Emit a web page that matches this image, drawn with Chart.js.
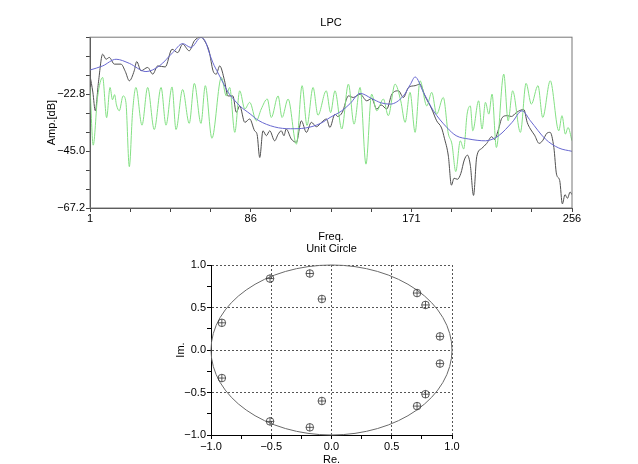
<!DOCTYPE html>
<html>
<head>
<meta charset="utf-8">
<title>LPC</title>
<script src="https://cdn.jsdelivr.net/npm/chart.js@4.4.1/dist/chart.umd.min.js"></script>
<style>
  html, body { margin: 0; padding: 0; background: #fff; overflow: hidden; }
  #lpcChart { position: absolute; left: 0; top: 0; }
  #circleChart { position: absolute; left: 0; top: 240px; }
</style>
</head>
<body>
<canvas id="lpcChart" width="638" height="245"></canvas>
<canvas id="circleChart" width="638" height="234"></canvas>
<script>
// Spectrum (gray): frequency bin / amplitude in dB
const specBins = [
  1, 2.5, 3.8, 5.5, 7.7, 9.5, 11.2, 13.9, 17.4, 19.7,
  21.8, 24.4, 25.7, 28, 31.5, 34.2, 36.8, 40.8, 44.4, 47.4,
  50, 53.5, 56.2, 59.7, 62, 64, 66.1, 67.8, 69.6, 72.2,
  73.9, 76.6, 78.4, 80.2, 82.9, 85.5, 88.1, 89.4, 90.8, 92.5,
  94.3, 96.1, 98.7, 100.5, 102.2, 103.6, 104.8, 107.5, 110.2, 112.8,
  115.5, 118.1, 120.8, 123.5, 126.1, 127.9, 130.6, 132, 134.5, 137.7,
  140.3, 143.9, 147.4, 150, 152.7, 155, 158, 160.7, 164.2, 166.8,
  169.5, 173, 175.6, 178.2, 181.8, 184.4, 187, 188.5, 190.6, 192.2,
  193.6, 195.4, 197.2, 199, 200.7, 202.2, 203.9, 205.6, 208.2, 210.9,
  213.5, 215, 217, 219, 221.6, 224, 226.5, 229, 230.5, 232.3,
  234, 236.2, 238.6, 240.4, 242.8, 244.4, 246.4, 247.8, 249.5, 250.9,
  252.3, 253.6, 255, 256
];
const specDb = [
  -15.5, -22, -29.3, -18, -7.2, -9.2, -8.5, -11.1, -11.1, -14,
  -17.6, -13.7, -10.1, -13.7, -12.4, -15, -11.8, -12.2, -5.3, -6.6,
  -3.3, -5.9, -2.0, -0.5, -2.5, -6, -13.7, -15, -11.8, -17.6,
  -23.5, -23.5, -29.9, -27.4, -33.8, -32.5, -37.1, -38.5, -47.5, -37.1,
  -39, -37.1, -41, -38.5, -37.1, -39, -36.4, -40.3, -41.6, -33.2,
  -37.7, -33.8, -35.5, -33.8, -32.5, -35.8, -30.6, -31.5, -29.9, -23.5,
  -24.1, -22.8, -25.4, -24.5, -28.6, -27, -28.6, -22.8, -21.5, -24.1,
  -20.2, -19.5, -18.9, -23.5, -28.6, -33.2, -36, -40, -47, -58.3,
  -55.6, -56, -53.7, -48.5, -46.6, -50.5, -62.3, -47.2, -44, -42,
  -39.4, -40.5, -36.8, -32, -31.2, -31.5, -30, -29, -28.8, -33.8,
  -36.4, -38.8, -42, -41, -38, -37.7, -43.6, -54, -56.5, -65.6,
  -62, -63.4, -61, -62
];

// LPC envelope (blue)
const envBins = [
  1, 7.7, 14.8, 21.8, 30.6, 37.7, 44.8, 50, 54.4, 59.7,
  62, 64, 66, 68.7, 71.5, 74, 77, 80.4, 85.7, 90,
  98.7, 107, 115, 123, 128, 134.2, 138.6, 143.9, 150, 155,
  159.8, 166.8, 170.5, 173, 177.4, 182.7, 189.8, 194.7, 201.4, 210.2,
  217.2, 224.3, 229.6, 234, 241.9, 249, 256
];
const envDb = [
  -13.4, -11.8, -9.2, -10.8, -14, -11.8, -6.6, -3.1, -4.6, -0.7,
  -2.2, -6.5, -10.5, -14.5, -18.5, -22, -24.8, -27.5, -30.5, -33,
  -35.6, -36.3, -36, -34.2, -31.9, -29.3, -26.5, -22.5, -24.5, -26.2,
  -26.7, -23.5, -19, -16.1, -22.1, -29.3, -35.8, -39, -40.3, -41,
  -39, -33.8, -29.3, -33.2, -40.3, -43.8, -45.1
];

// Residual spectrum (green)
const resBins = [
  1, 2.7, 5, 7.7, 9.8, 11.6, 12.9, 14, 15, 16.5,
  18.5, 20, 21.8, 23.5, 25.3, 28.5, 31.5, 35, 38.6, 41.2,
  44.4, 46.5, 50, 53.5, 56.2, 59.7, 62, 65.5, 70.5, 73.1,
  74.9, 77.6, 80.2, 82.9, 85.5, 89, 91.6, 94.8, 96.9, 100.5,
  102.6, 105.8, 110.2, 113.2, 115.8, 119, 121.6, 126, 128.3, 130.6,
  134.2, 137.7, 140.7, 143.9, 147, 150, 152.7, 156.2, 158.8, 162.4,
  165.4, 167.7, 170.3, 173, 175.6, 179.2, 181.8, 184.4, 187.9, 190.5,
  192.5, 194.5, 196.9, 198.7, 200.5, 202.2, 203.5, 206.6, 208.4, 210.2,
  212, 213.7, 216, 219.9, 222.2, 224.6, 228.7, 231.7, 234.5, 238,
  240.5, 244.5, 249, 250.7, 252.5, 253.9, 256
];
const resDb = [
  -20, -42.7, -24, -16.3, -32, -20.2, -25, -23, -27, -29.3,
  -23.5, -26, -51.1, -30, -20.2, -34.9, -20.2, -36.6, -20.2, -34.9,
  -20, -36.6, -21, -34.2, -18.6, -34.2, -19.5, -40, -16.3, -23.5,
  -20.2, -37.7, -21.5, -28.6, -26, -33.2, -28.6, -24.7, -31.9, -23.5,
  -31.9, -24.7, -42.3, -19.5, -35, -20.2, -31, -21.5, -30, -21.5,
  -36.4, -18.9, -34.5, -20.2, -50.1, -22.8, -29.3, -24.7, -31.2, -18.9,
  -25.4, -33.8, -22.1, -37.7, -17.6, -27.4, -22.1, -30.6, -24.1, -38,
  -42.3, -53, -41, -44.2, -30.6, -27.4, -37.1, -25.4, -36.4, -26,
  -30.6, -22.8, -43.6, -15, -33.2, -21.5, -37.7, -18.6, -26.7, -19.5,
  -31.9, -17.6, -37.1, -31.2, -38.4, -35.8, -41
];

// Roots on the z-plane
const rootRe = [-0.51, -0.18, -0.08, 0.71, 0.78, 0.90, 0.90, 0.78, 0.71, -0.08, -0.18, -0.51, -0.91, -0.91];
const rootIm = [0.84, 0.90, 0.60, 0.67, 0.53, 0.16, -0.16, -0.52, -0.66, -0.60, -0.91, -0.84, -0.33, 0.32];

// Axis settings
const freqMin = 1, freqMax = 256, freqStep = 21.25;
const dbMin = -67.2, dbMax = -0.6, dbStep = 7.4;

Chart.defaults.font.family = '"Liberation Sans", Arial, sans-serif';
Chart.defaults.font.size = 11;
Chart.defaults.color = '#000';

const toPoints = (xs, ys) => xs.map((x, i) => ({ x, y: ys[i] }));
const fmt = v => (v < 0 ? '\u2212' : '') + Math.abs(v).toFixed(1);
const isHalf = v => Math.abs(v * 2 - Math.round(v * 2)) < 1e-6;

// box around the spectrum plot
const frame = {
  id: 'frame',
  afterDatasetsDraw(chart) {
    const { ctx, chartArea: a } = chart;
    ctx.save();
    ctx.strokeStyle = '#777';
    ctx.lineWidth = 1;
    ctx.strokeRect(a.left, a.top, a.right - a.left, a.bottom - a.top);
    ctx.restore();
  }
};

// unit circle, drawn through the chart's scales
const unitCircle = {
  id: 'unitCircle',
  beforeDatasetsDraw(chart) {
    const { ctx, scales: { x, y } } = chart;
    const cx = x.getPixelForValue(0);
    const cy = y.getPixelForValue(0);
    ctx.save();
    ctx.strokeStyle = '#6a6a6a';
    ctx.lineWidth = 1;
    ctx.beginPath();
    ctx.ellipse(cx, cy, x.getPixelForValue(1) - cx, cy - y.getPixelForValue(1), 0, 0, Math.PI * 2);
    ctx.stroke();
    ctx.restore();
  }
};

new Chart(document.getElementById('lpcChart'), {
  type: 'line',
  data: {
    datasets: [
      { label: 'LPC envelope', data: toPoints(envBins, envDb), borderColor: '#6868d0' },
      { label: 'Residual', data: toPoints(resBins, resDb), borderColor: '#84e084' },
      { label: 'Spectrum', data: toPoints(specBins, specDb), borderColor: '#505050' }
    ]
  },
  options: {
    responsive: false,
    animation: false,
    elements: {
      point: { radius: 0 },
      line: { borderWidth: 1, cubicInterpolationMode: 'monotone' }
    },
    layout: { padding: { right: 66 } },
    plugins: {
      legend: { display: false },
      tooltip: { enabled: false },
      title: {
        display: true, text: 'LPC', fullSize: false, color: '#000',
        font: { size: 11, weight: 'normal' }, padding: { top: 16, bottom: 8 }
      }
    },
    scales: {
      x: {
        type: 'linear', min: freqMin, max: freqMax,
        ticks: {
          stepSize: freqStep, autoSkip: false, maxRotation: 0, padding: 0,
          callback: (v, i) => (i % 4 === 0 ? String(Math.round(v)) : '')
        },
        grid: { drawOnChartArea: false, tickLength: 4, color: '#444' },
        border: { color: '#444' },
        title: { display: true, text: 'Freq.', padding: { top: 0, bottom: 1.4 } },
        afterFit: s => { s.height = 37; }
      },
      y: {
        min: dbMin, max: dbMax,
        ticks: {
          stepSize: dbStep, autoSkip: false, padding: 1,
          callback: (v, i) => (i % 3 === 0 && i < 9 ? fmt(v) : '')
        },
        grid: { drawOnChartArea: false, tickLength: 4, color: '#444' },
        border: { color: '#444' },
        title: { display: true, text: 'Amp.[dB]', padding: { top: 45, bottom: 0 } },
        afterFit: s => { s.width = 90; }
      }
    }
  },
  plugins: [frame]
});

const halfGrid = ctx => (isHalf(ctx.tick.value) ? '#555' : 'rgba(0,0,0,0)');

new Chart(document.getElementById('circleChart'), {
  type: 'scatter',
  data: {
    datasets: [
      {
        label: 'roots', data: toPoints(rootRe, rootIm), pointStyle: 'circle',
        pointRadius: 3.8, pointBorderColor: '#333', pointBackgroundColor: 'rgba(0,0,0,0)', pointBorderWidth: 0.8
      },
      {
        label: 'roots cross', data: toPoints(rootRe, rootIm), pointStyle: 'cross',
        pointRadius: 3.8, pointBorderColor: '#333', pointBorderWidth: 0.8
      }
    ]
  },
  options: {
    responsive: false,
    animation: false,
    layout: { padding: { right: 186 } },
    plugins: {
      legend: { display: false },
      tooltip: { enabled: false },
      title: {
        display: true, text: 'Unit Circle', fullSize: false, color: '#000',
        font: { size: 11, weight: 'normal' }, padding: { top: 2.4, bottom: 9.4 }
      }
    },
    scales: {
      x: {
        type: 'linear', min: -1, max: 1,
        ticks: {
          stepSize: 0.25, autoSkip: false, maxRotation: 0, padding: 1,
          callback: v => (isHalf(v) ? fmt(v) : '')
        },
        grid: { color: halfGrid, tickColor: '#000', tickLength: 4 },
        border: { color: '#000', dash: [2, 2] },
        title: { display: true, text: 'Re.', padding: { top: 0, bottom: 7.4 } },
        afterFit: s => { s.height = 39; }
      },
      y: {
        min: -1, max: 1,
        ticks: {
          stepSize: 0.25, autoSkip: false, padding: 1,
          callback: v => (isHalf(v) ? fmt(v) : '')
        },
        grid: { color: halfGrid, tickColor: '#000', tickLength: 4 },
        border: { color: '#000', dash: [2, 2] },
        title: { display: true, text: 'Im.', padding: { top: 174.4, bottom: 0 } },
        afterFit: s => { s.width = 211; }
      }
    }
  },
  plugins: [unitCircle]
});
</script>
</body>
</html>
